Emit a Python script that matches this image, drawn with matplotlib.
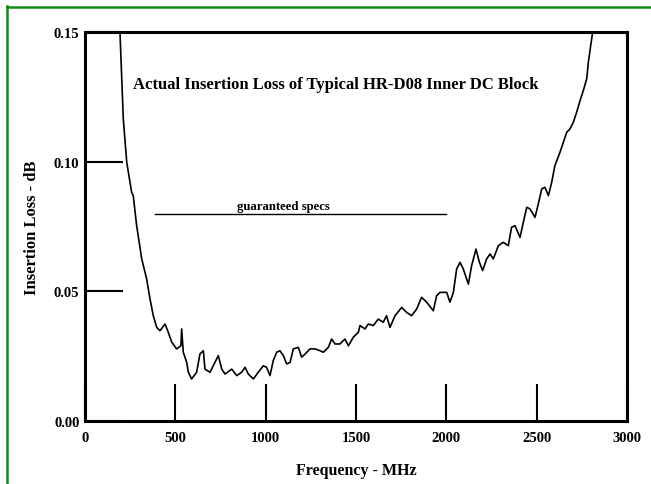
import numpy as np
import matplotlib.pyplot as plt
from matplotlib.lines import Line2D

# Insertion loss (MHz, dB)
freq_mhz = [194, 212, 231, 258, 267, 286, 314, 341, 360, 378, 397, 415, 443, 461,
            480, 507, 531, 535, 544, 563, 572, 590, 618, 636, 655, 664, 692, 719,
            738, 757, 775, 812, 840, 867, 886, 904, 932, 959, 987, 1005, 1024,
            1042, 1061, 1079, 1098, 1116, 1135, 1153, 1181, 1199, 1218, 1245,
            1273, 1301, 1319, 1347, 1365, 1384, 1411, 1439, 1458, 1485, 1513,
            1522, 1550, 1568, 1596, 1623, 1651, 1669, 1688, 1716, 1753, 1780,
            1808, 1836, 1863, 1891, 1928, 1946, 1965, 2002, 2020, 2039, 2057,
            2076, 2094, 2112, 2122, 2140, 2164, 2183, 2201, 2223, 2242, 2260,
            2288, 2315, 2343, 2361, 2380, 2408, 2426, 2445, 2463, 2491, 2509,
            2528, 2546, 2565, 2583, 2601, 2629, 2648, 2666, 2684, 2703, 2721,
            2740, 2758, 2777, 2786, 2799, 2810]
loss_db = [0.149, 0.1165, 0.0998, 0.0882, 0.0869, 0.0753, 0.0625, 0.0548, 0.0470,
           0.0406, 0.0361, 0.0348, 0.0374, 0.0342, 0.0304, 0.0278, 0.0290, 0.0355,
           0.0265, 0.0226, 0.0188, 0.0162, 0.0188, 0.0258, 0.0271, 0.0200, 0.0188,
           0.0226, 0.0252, 0.0200, 0.0181, 0.0200, 0.0175, 0.0188, 0.0207, 0.0181,
           0.0162, 0.0188, 0.0213, 0.0207, 0.0175, 0.0233, 0.0265, 0.0271, 0.0252,
           0.0220, 0.0226, 0.0278, 0.0284, 0.0246, 0.0258, 0.0278, 0.0278, 0.0271,
           0.0265, 0.0284, 0.0316, 0.0297, 0.0297, 0.0316, 0.0290, 0.0323, 0.0342,
           0.0368, 0.0355, 0.0374, 0.0368, 0.0393, 0.0381, 0.0406, 0.0361, 0.0406,
           0.0438, 0.0419, 0.0406, 0.0432, 0.0477, 0.0458, 0.0425, 0.0483, 0.0496,
           0.0496, 0.0458, 0.0496, 0.0586, 0.0612, 0.0586, 0.0548, 0.0528, 0.0599,
           0.0663, 0.0612, 0.0580, 0.0625, 0.0644, 0.0625, 0.0676, 0.0689, 0.0676,
           0.0747, 0.0753, 0.0708, 0.0766, 0.0824, 0.0818, 0.0785, 0.0837, 0.0895,
           0.0901, 0.0869, 0.0920, 0.0985, 0.1036, 0.1075, 0.1113, 0.1126, 0.1152,
           0.1190, 0.1235, 0.1274, 0.1319, 0.1383, 0.1447, 0.150]

spec_start, spec_end, spec_level = 390, 2000, 0.08
x_ticks = [0, 500, 1000, 1500, 2000, 2500, 3000]
y_ticks = [0.00, 0.05, 0.10, 0.15]

plt.rcParams['font.family'] = ['Liberation Serif', 'DejaVu Serif']
plt.rcParams['font.weight'] = 'bold'

fig = plt.figure(figsize=(6.51, 4.85), dpi=100)
ax = fig.add_axes([85 / 651, 1 - 422 / 485, (627 - 85) / 651, (422 - 33) / 485])

ax.plot(freq_mhz, loss_db, color='black', linewidth=1.2)
ax.plot([spec_start, spec_end], [spec_level, spec_level], color='black', linewidth=1.0)

ax.set_xlim(0, 3000)
ax.set_ylim(0, 0.15)
ax.set_xticks(x_ticks)
ax.set_xticklabels([str(t) for t in x_ticks])
ax.set_yticks(y_ticks)
ax.set_yticklabels(['%.2f' % t for t in y_ticks])
ax.tick_params(direction='in', length=27, width=1.5, labelsize=10.5, pad=4)
ax.tick_params(axis='x', pad=7)
for s in ax.spines.values():
    s.set_linewidth(2.2)

ax.set_xlabel('Frequency - MHz', fontsize=11.5, fontweight='bold', labelpad=13)
ax.set_ylabel('Insertion Loss - dB', fontsize=12, fontweight='bold', labelpad=10)

ax.text(336 / 651, 1 - 85 / 485, 'Actual Insertion Loss of Typical HR-D08 Inner DC Block',
        transform=fig.transFigure, ha='center', va='center', fontsize=12, fontweight='bold')
ax.text(283 / 651, 1 - 207 / 485, 'guaranteed specs', transform=fig.transFigure,
        ha='center', va='center', fontsize=9.2, fontweight='bold')

# green frame (left and top edges only visible)
green = '#138a13'
fig.add_artist(Line2D([6.5 / 651, 6.5 / 651], [0, 1 - 7 / 485], color=green, linewidth=1.8,
                      transform=fig.transFigure))
fig.add_artist(Line2D([6.5 / 651, 1], [1 - 7.5 / 485, 1 - 7.5 / 485], color=green, linewidth=1.8,
                      transform=fig.transFigure))

plt.savefig('out.png', dpi=100)
